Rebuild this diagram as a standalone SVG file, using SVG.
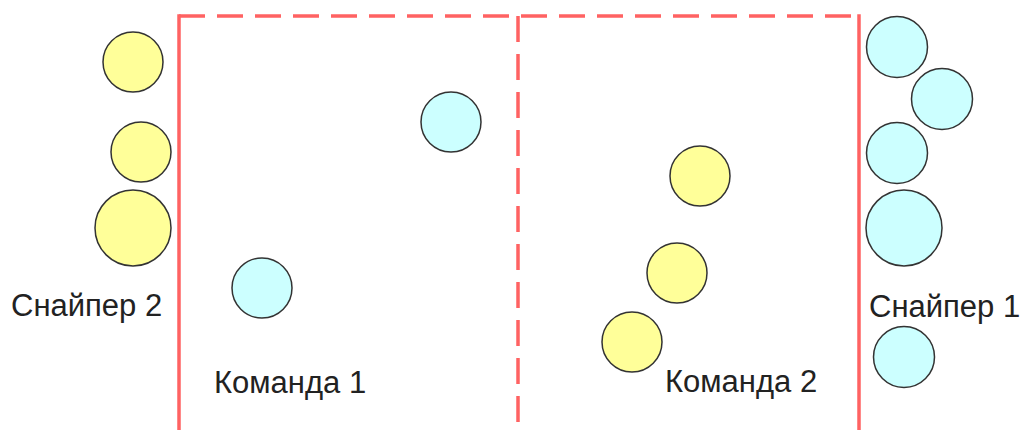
<svg xmlns="http://www.w3.org/2000/svg" width="1024" height="430" viewBox="0 0 1024 430">
<style>
.wall{stroke:#ff6262;stroke-width:3.5;fill:none}
.dash{stroke:#ff6262;stroke-width:3.5;fill:none;stroke-dasharray:26 12}
.y{fill:#ffff99;stroke:#333;stroke-width:1.5}
.c{fill:#ccffff;stroke:#333;stroke-width:1.5}
.t{font-family:"Liberation Sans",Arial,sans-serif;font-size:31px;fill:#222}
</style>
<rect width="1024" height="430" fill="#fff"/>
<g id="field">
<line class="dash" x1="179" y1="16" x2="859" y2="16"/>
<line class="dash" x1="518" y1="16" x2="518" y2="430"/>
<line class="wall" x1="179" y1="14.25" x2="179" y2="430"/>
<line class="wall" x1="859" y1="14.25" x2="859" y2="430"/>
</g>
<g id="team2-sniper">
<circle class="y" cx="133" cy="62" r="30"/>
<circle class="y" cx="141" cy="152" r="30"/>
<circle class="y" cx="133" cy="228" r="38"/>
<text class="t" x="11" y="316">Снайпер 2</text>
</g>
<g id="team1">
<circle class="c" cx="262" cy="288" r="30"/>
<circle class="c" cx="451" cy="122" r="30"/>
<text class="t" x="214" y="393">Команда 1</text>
</g>
<g id="team2">
<circle class="y" cx="700" cy="176" r="30"/>
<circle class="y" cx="677" cy="273" r="30"/>
<circle class="y" cx="632" cy="342" r="30"/>
<text class="t" x="665" y="392">Команда 2</text>
</g>
<g id="team1-sniper">
<circle class="c" cx="897" cy="47" r="30.5"/>
<circle class="c" cx="942" cy="99" r="30.5"/>
<circle class="c" cx="897" cy="153" r="30.5"/>
<circle class="c" cx="904" cy="228" r="38"/>
<circle class="c" cx="904" cy="357" r="30.5"/>
<text class="t" x="869" y="317">Снайпер 1</text>
</g>
<g id="connectors"/>
</svg>
